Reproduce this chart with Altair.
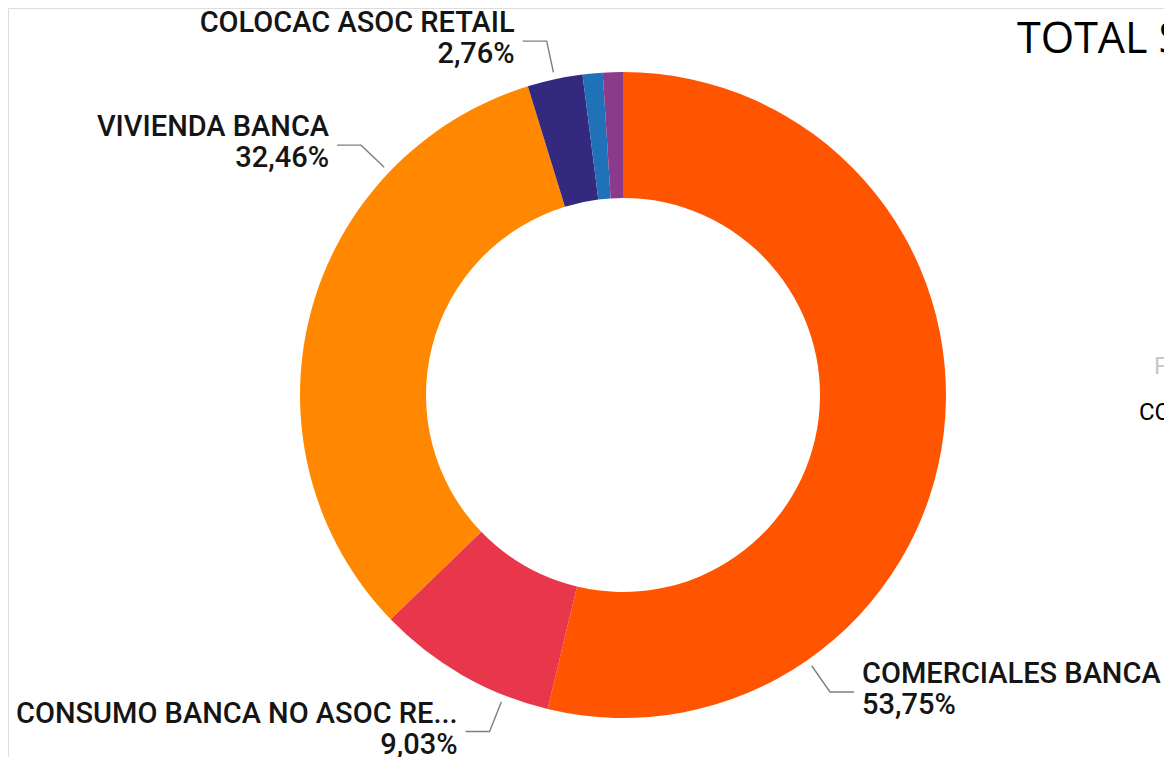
import math
import altair as alt
import pandas as pd

# ---- data ----
categories = ["COMERCIALES BANCA", "CONSUMO BANCA NO ASOC RETAIL", "VIVIENDA BANCA",
              "COLOCAC ASOC RETAIL", "OTROS A", "OTROS B"]
label_names = ["COMERCIALES BANCA", "CONSUMO BANCA NO ASOC RE...", "VIVIENDA BANCA",
               "COLOCAC ASOC RETAIL", "", ""]
values = [53.75, 9.03, 32.46, 2.76, 1.00, 1.00]
show_label = [True, True, True, True, False, False]
colors = ["#FF5500", "#E8364A", "#FF8800", "#33297F", "#1F72B8", "#8B3A8C"]

# ---- layout ----
W, H = 1156, 749
CX, CY = 615, 387
R_OUT, R_IN = 323, 197
R_START, R_ELBOW = 330, 362
HLEN, GAP, DY_NAME, DY_PCT = 24, 8, 18, 13
label_frac = [0.75, 0.25, 0.75, 0.5, 0.5, 0.5]  # where along each slice the leader starts

total = sum(values)
df = pd.DataFrame({"cat": categories, "value": values, "order": range(len(values))})

xs = alt.Scale(domain=[0, W], range=[0, W], nice=False, zero=False)
ys = alt.Scale(domain=[0, H], range=[0, H], nice=False, zero=False)

# leader lines + label positions computed from the data angles
line_rows, text_rows = [], []
cum = 0.0
for i, (c, v) in enumerate(zip(categories, values)):
    if show_label[i]:
        a = (cum + v * label_frac[i]) / total * 2 * math.pi
        s, co = math.sin(a), math.cos(a)
        x0, y0 = CX + R_START * s, CY - R_START * co
        x1, y1 = CX + R_ELBOW * s, CY - R_ELBOW * co
        side = 1 if s >= 0 else -1
        x2 = x1 + side * HLEN
        for k, (px, py) in enumerate([(x0, y0), (x1, y1), (x2, y1)]):
            line_rows.append({"cat": c, "seq": k, "x": px, "y": py})
        pct = f"{v:.2f}%".replace(".", ",")
        tx = x2 + side * GAP
        text_rows.append({"t": label_names[i], "x": tx, "y": y1 - DY_NAME, "side": side})
        text_rows.append({"t": pct, "x": tx, "y": y1 + DY_PCT, "side": side})
    cum += v

lines = pd.DataFrame(line_rows)
texts = pd.DataFrame(text_rows)

arc = alt.Chart(df).mark_arc(innerRadius=R_IN, outerRadius=R_OUT).encode(
    theta=alt.Theta("value:Q", stack=True),
    order=alt.Order("order:Q"),
    color=alt.Color("cat:N", scale=alt.Scale(domain=categories, range=colors), legend=None),
    x=alt.value(CX),
    y=alt.value(CY),
)

leader = alt.Chart(lines).mark_line(color="#7F7F7F", strokeWidth=1.4).encode(
    x=alt.X("x:Q", scale=xs, axis=None),
    y=alt.Y("y:Q", scale=ys, axis=None),
    detail="cat:N",
    order="seq:Q",
)

font = "Roboto"
txt_right = alt.Chart(texts).transform_filter("datum.side > 0").mark_text(
    align="left", baseline="middle", font=font, fontSize=29, fontWeight=500, color="#151515"
).encode(x=alt.X("x:Q", scale=xs, axis=None), y=alt.Y("y:Q", scale=ys, axis=None), text="t:N")

txt_left = alt.Chart(texts).transform_filter("datum.side < 0").mark_text(
    align="right", baseline="middle", font=font, fontSize=29, fontWeight=500, color="#151515"
).encode(x=alt.X("x:Q", scale=xs, axis=None), y=alt.Y("y:Q", scale=ys, axis=None), text="t:N")

# partially visible neighbouring visual on the right edge
side_texts = pd.DataFrame({
    "t": ["TOTAL S", "P", "CO"],
    "x": [1009, 1146, 1131],
    "y": [45, 359, 405],
    "col": ["#000000", "#C8C8C8", "#000000"],
})
title = alt.Chart(side_texts.iloc[[0]]).mark_text(
    align="left", baseline="alphabetic", font="Open Sans", fontSize=43, fontWeight=400, color="#000000"
).encode(x=alt.X("x:Q", scale=xs, axis=None), y=alt.Y("y:Q", scale=ys, axis=None), text="t:N")
others = alt.Chart(side_texts.iloc[[1, 2]]).mark_text(
    align="left", baseline="middle", font="Roboto", fontSize=24
).encode(
    x=alt.X("x:Q", scale=xs, axis=None),
    y=alt.Y("y:Q", scale=ys, axis=None),
    text="t:N",
    color=alt.Color("col:N", scale=None),
)

chart = alt.layer(arc, leader, txt_right, txt_left, title, others).properties(
    width=W, height=H, padding=0, autosize=alt.AutoSizeParams(type="none")
).configure_view(stroke="transparent", strokeWidth=0).configure(background="white")

chart.save("out.html", embed_options={"renderer": "svg", "actions": False})
